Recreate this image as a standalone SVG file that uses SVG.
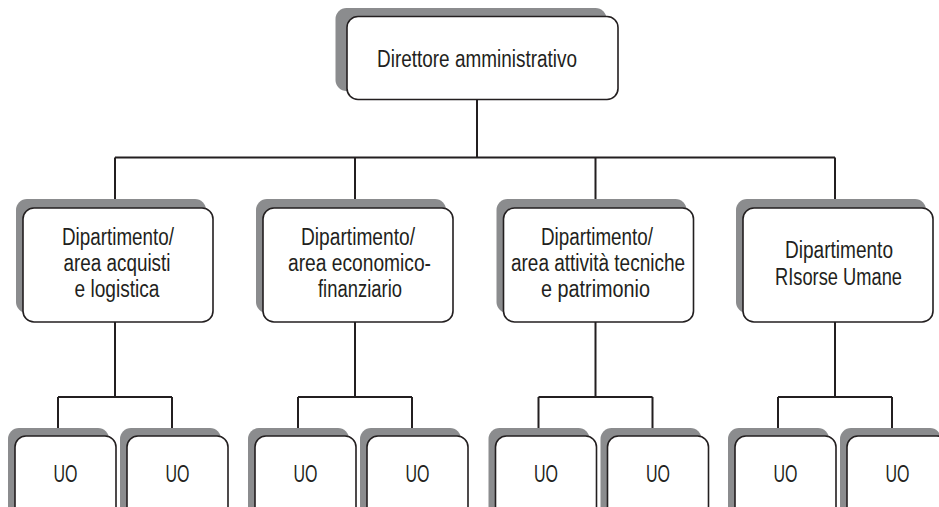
<svg xmlns="http://www.w3.org/2000/svg" width="939" height="507" viewBox="0 0 939 507">
<style>
.sh{fill:#8b8c8e;stroke:none}
.bx{fill:#fff;stroke:#231f20;stroke-width:1.6}
.t{font-family:"Liberation Sans Narrow","Liberation Sans",Arial,sans-serif;font-size:23px;fill:#231f20;text-anchor:middle}
.c{fill:none;stroke:#231f20;stroke-width:2}
</style>
<rect width="939" height="507" fill="#fff"/>
<g id="connectors">
<path class="c" d="M477 100V157.5M115 157.5H835M115 157.5V200M355 157.5V200M595.5 157.5V200M835 157.5V200"/>
<path class="c" d="M115 322V397M58 397H172M58 397V429M172 397V429"/>
<path class="c" d="M355 322V397M298 397H412M298 397V429M412 397V429"/>
<path class="c" d="M595.5 322V397M538.5 397H652.5M538.5 397V429M652.5 397V429"/>
<path class="c" d="M835 322V397M778 397H892M778 397V429M892 397V429"/>
</g>
<g id="top">
<rect class="sh" x="335.5" y="8" width="271" height="83" rx="11"/>
<rect class="bx" x="347" y="16.5" width="271" height="83" rx="11"/>
<text class="t" x="477" y="67" textLength="200" lengthAdjust="spacingAndGlyphs">Direttore amministrativo</text>
</g>
<g id="dept1">
<rect class="sh" x="16" y="199" width="190" height="114" rx="11"/>
<rect class="bx" x="23" y="208" width="190" height="114" rx="11"/>
<text class="t" x="118" y="245" textLength="112" lengthAdjust="spacingAndGlyphs">Dipartimento/</text>
<text class="t" x="117" y="271" textLength="107" lengthAdjust="spacingAndGlyphs">area acquisti</text>
<text class="t" x="117" y="297" textLength="85" lengthAdjust="spacingAndGlyphs">e logistica</text>
</g>
<g id="dept2">
<rect class="sh" x="256" y="199" width="190" height="114" rx="11"/>
<rect class="bx" x="263" y="208" width="190" height="114" rx="11"/>
<text class="t" x="358" y="245" textLength="114" lengthAdjust="spacingAndGlyphs">Dipartimento/</text>
<text class="t" x="359.5" y="271" textLength="143" lengthAdjust="spacingAndGlyphs">area economico-</text>
<text class="t" x="360" y="297" textLength="84" lengthAdjust="spacingAndGlyphs">finanziario</text>
</g>
<g id="dept3">
<rect class="sh" x="496.5" y="199" width="190" height="114" rx="11"/>
<rect class="bx" x="503.5" y="208" width="190" height="114" rx="11"/>
<text class="t" x="597" y="245" textLength="112" lengthAdjust="spacingAndGlyphs">Dipartimento/</text>
<text class="t" x="598" y="271" textLength="174" lengthAdjust="spacingAndGlyphs">area attività tecniche</text>
<text class="t" x="595.5" y="297" textLength="109" lengthAdjust="spacingAndGlyphs">e patrimonio</text>
</g>
<g id="dept4">
<rect class="sh" x="736" y="199" width="190" height="114" rx="11"/>
<rect class="bx" x="743" y="208" width="190" height="114" rx="11"/>
<text class="t" x="839" y="258" textLength="108" lengthAdjust="spacingAndGlyphs">Dipartimento</text>
<text class="t" x="838.5" y="285" textLength="127" lengthAdjust="spacingAndGlyphs">RIsorse Umane</text>
</g>
<g id="uo1a"><rect class="sh" x="8" y="428" width="101" height="100" rx="11"/><rect class="bx" x="15" y="436" width="101" height="100" rx="11"/><text class="t" x="65.5" y="482" textLength="24" lengthAdjust="spacingAndGlyphs">UO</text></g>
<g id="uo1b"><rect class="sh" x="120" y="428" width="101" height="100" rx="11"/><rect class="bx" x="127" y="436" width="101" height="100" rx="11"/><text class="t" x="177.5" y="482" textLength="24" lengthAdjust="spacingAndGlyphs">UO</text></g>
<g id="uo2a"><rect class="sh" x="248" y="428" width="101" height="100" rx="11"/><rect class="bx" x="255" y="436" width="101" height="100" rx="11"/><text class="t" x="305.5" y="482" textLength="24" lengthAdjust="spacingAndGlyphs">UO</text></g>
<g id="uo2b"><rect class="sh" x="360" y="428" width="101" height="100" rx="11"/><rect class="bx" x="367" y="436" width="101" height="100" rx="11"/><text class="t" x="417.5" y="482" textLength="24" lengthAdjust="spacingAndGlyphs">UO</text></g>
<g id="uo3a"><rect class="sh" x="488.5" y="428" width="101" height="100" rx="11"/><rect class="bx" x="495.5" y="436" width="101" height="100" rx="11"/><text class="t" x="546" y="482" textLength="24" lengthAdjust="spacingAndGlyphs">UO</text></g>
<g id="uo3b"><rect class="sh" x="600.5" y="428" width="101" height="100" rx="11"/><rect class="bx" x="607.5" y="436" width="101" height="100" rx="11"/><text class="t" x="658" y="482" textLength="24" lengthAdjust="spacingAndGlyphs">UO</text></g>
<g id="uo4a"><rect class="sh" x="728" y="428" width="101" height="100" rx="11"/><rect class="bx" x="735" y="436" width="101" height="100" rx="11"/><text class="t" x="785.5" y="482" textLength="24" lengthAdjust="spacingAndGlyphs">UO</text></g>
<g id="uo4b"><rect class="sh" x="840" y="428" width="101" height="100" rx="11"/><rect class="bx" x="847" y="436" width="101" height="100" rx="11"/><text class="t" x="897.5" y="482" textLength="24" lengthAdjust="spacingAndGlyphs">UO</text></g>
</svg>
